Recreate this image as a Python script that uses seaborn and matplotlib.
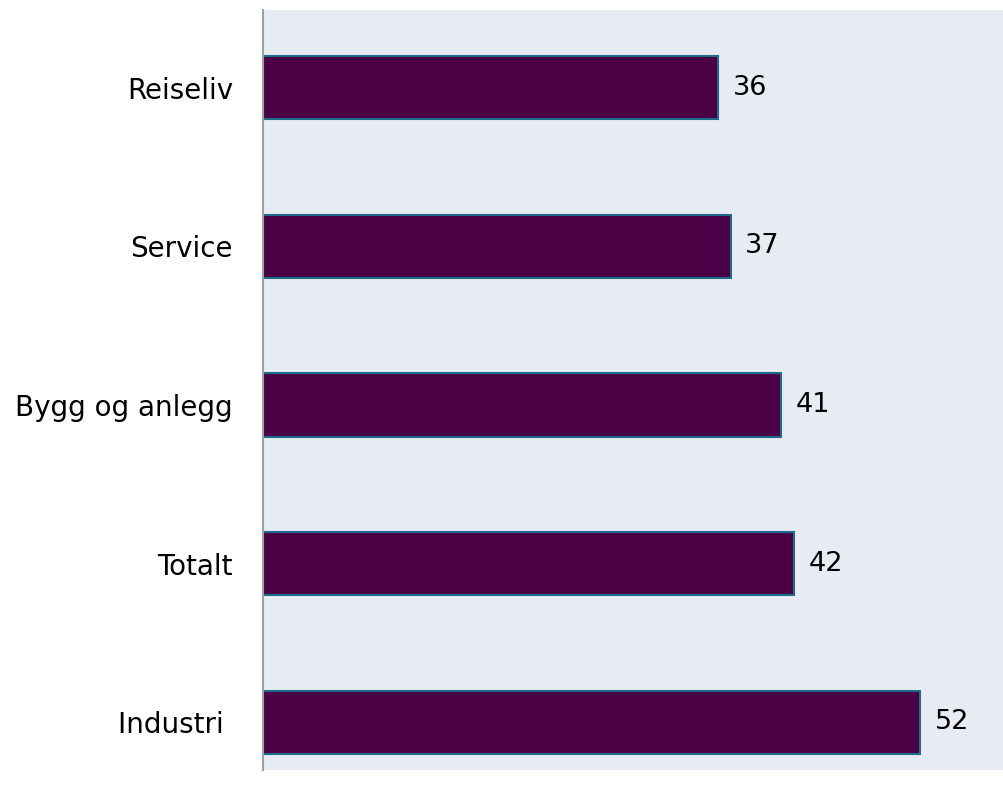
import pandas as pd
import numpy as np
import matplotlib.pyplot as plt
import seaborn as sns

# chart values
categories = ["Reiseliv", "Service", "Bygg og anlegg", "Totalt", "Industri "]
values = [36, 37, 41, 42, 52]

BG = "#E7EBF3"
BAR = "#4B0046"
EDGE = "#1F6C8A"

sns.set_style("white")
plt.rcParams["font.family"] = ["DejaVu Sans"]

df = pd.DataFrame({"kategori": categories, "verdi": values})

fig = plt.figure(figsize=(10.04, 7.98), dpi=100)
ax = fig.add_axes([263.5 / 1004, 28 / 798, 1 - 263.5 / 1004, 760 / 798])
ax.set_facecolor(BG)

sns.barplot(data=df, x="verdi", y="kategori", order=categories, color=BAR,
            saturation=1, width=0.40, edgecolor=EDGE, linewidth=1.5, ax=ax)

for i, v in enumerate(values):
    ax.text(v + 1.15, i, str(v), va="center", ha="left", fontsize=19.5, color="black")

ax.set_xlim(0, 58.65)
ax.set_ylim(4.30, -0.49)
ax.set_xlabel("")
ax.set_ylabel("")
ax.set_xticks([])
ax.tick_params(axis="y", length=0, pad=22, labelsize=20, labelcolor="black")
for s in ["top", "right", "bottom"]:
    ax.spines[s].set_visible(False)
ax.spines["left"].set_color("#A0A0A0")
ax.spines["left"].set_linewidth(1.5)

fig.savefig("out.png", dpi=100)
